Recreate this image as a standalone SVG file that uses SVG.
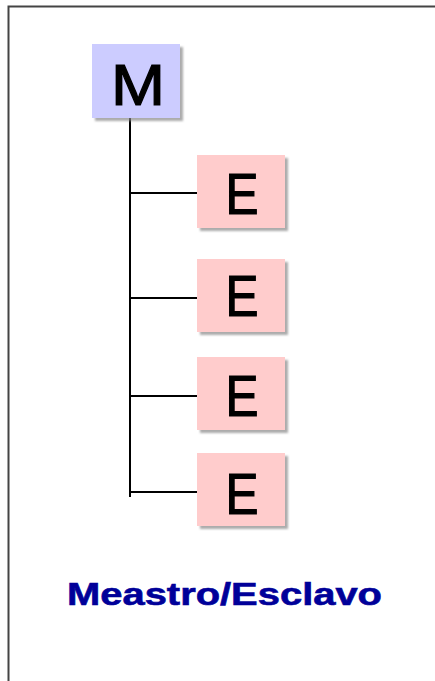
<svg xmlns="http://www.w3.org/2000/svg" width="435" height="681" viewBox="0 0 435 681">
  <defs>
    <filter id="shadow" x="-10%" y="-10%" width="130%" height="130%">
      <feGaussianBlur in="SourceAlpha" stdDeviation="1"/>
      <feOffset dx="3" dy="3" result="blur"/>
      <feFlood flood-color="#888888" flood-opacity="0.7"/>
      <feComposite in2="blur" operator="in"/>
      <feMerge>
        <feMergeNode/>
        <feMergeNode in="SourceGraphic"/>
      </feMerge>
    </filter>
    <style>
      .frame { fill: none; stroke: #444444; stroke-width: 2; }
      .link { fill: none; stroke: #000000; stroke-width: 2; }
      .master rect { fill: #ccccff; filter: url(#shadow); }
      .slave rect { fill: #ffcccc; filter: url(#shadow); }
      .node text { font-family: "Liberation Sans", Arial, sans-serif; font-size: 57px; fill: #000000; stroke: #000000; stroke-width: 1.2; text-anchor: middle; }
      .caption { font-family: "Liberation Sans", Arial, sans-serif; font-weight: bold; font-size: 31px; fill: #000099; stroke: #000099; stroke-width: 0.6; }
    </style>
  </defs>

  <rect width="435" height="681" fill="#ffffff"/>

  <!-- outer frame: only top and left edges fall inside the canvas -->
  <path class="frame" d="M8.5,681 V6.5 H435"/>

  <!-- bus connectors -->
  <g id="connectors">
    <path class="link" d="M130,118 V497"/>
    <path class="link" d="M130,193 H197"/>
    <path class="link" d="M130,298 H197"/>
    <path class="link" d="M130,396 H197"/>
    <path class="link" d="M130,492 H197"/>
  </g>

  <g id="master" class="node master">
    <rect x="92" y="44" width="88" height="74"/>
    <text x="138" y="105" textLength="54" lengthAdjust="spacingAndGlyphs">M</text>
  </g>

  <g id="slave1" class="node slave">
    <rect x="197" y="155" width="88" height="73"/>
    <text x="242" y="214" textLength="33" lengthAdjust="spacingAndGlyphs">E</text>
  </g>

  <g id="slave2" class="node slave">
    <rect x="197" y="259" width="88" height="73"/>
    <text x="242" y="316" textLength="33" lengthAdjust="spacingAndGlyphs">E</text>
  </g>

  <g id="slave3" class="node slave">
    <rect x="197" y="357" width="88" height="73"/>
    <text x="242" y="416" textLength="33" lengthAdjust="spacingAndGlyphs">E</text>
  </g>

  <g id="slave4" class="node slave">
    <rect x="197" y="453" width="88" height="73"/>
    <text x="242" y="514" textLength="33" lengthAdjust="spacingAndGlyphs">E</text>
  </g>

  <text class="caption" x="67" y="605" textLength="315" lengthAdjust="spacingAndGlyphs">Meastro/Esclavo</text>
</svg>
